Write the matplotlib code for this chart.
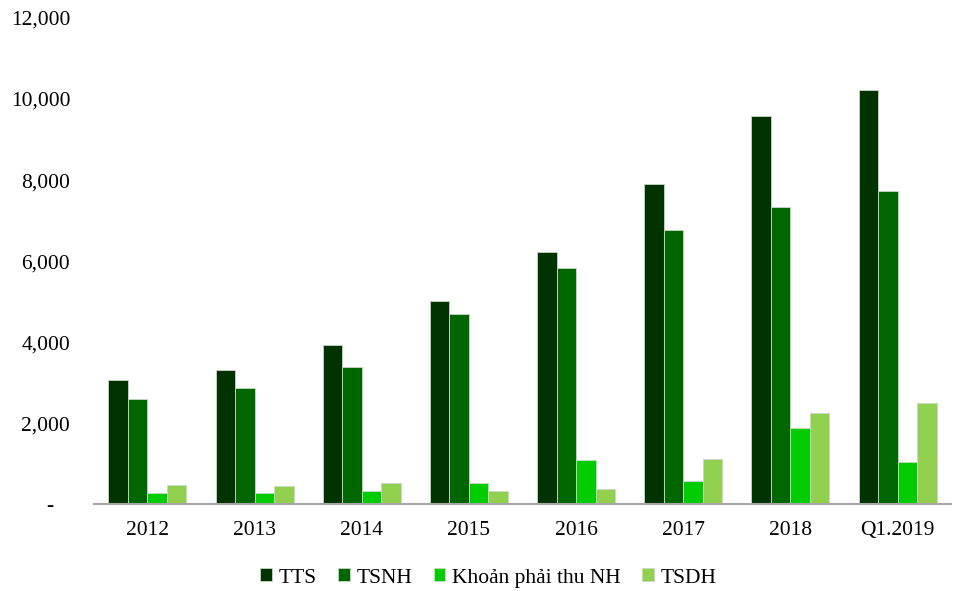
import matplotlib
matplotlib.use("Agg")
import matplotlib.pyplot as plt
import numpy as np

categories = ["2012", "2013", "2014", "2015", "2016", "2017", "2018", "Q1.2019"]
series_names = ["TTS", "TSNH", "Khoản phải thu NH", "TSDH"]
tts = [3062, 3317, 3926, 5020, 6214, 7909, 9580, 10222]
tsnh = [2600, 2856, 3383, 4691, 5827, 6773, 7325, 7728]
khoan = [263, 272, 321, 510, 1095, 568, 1868, 1029]
tsdh = [461, 453, 519, 313, 378, 1119, 2255, 2494]
colors = ["#003300", "#006600", "#00CC00", "#92D050"]

plt.rcParams['font.family'] = ['Liberation Serif', 'DejaVu Serif']

fig = plt.figure(figsize=(9.57, 5.91), dpi=100)
ax = fig.add_axes([0.098, 0.147, 0.896, 0.8225])

x = np.arange(len(categories))
w = 0.182
for i, (vals, name) in enumerate(zip([tts, tsnh, khoan, tsdh], series_names)):
    ax.bar(x + (i - 1.5) * w, vals, width=w, color=colors[i], label=name,
           edgecolor="#c8d8c8", linewidth=0.6)

ax.set_xlim(-0.5, len(categories) - 0.5)
ax.set_ylim(0, 12000)
yt = np.arange(0, 12001, 2000)
ax.set_yticks(yt)
ax.set_yticklabels(["-   "] + [f"{v:,}" for v in yt[1:]], fontsize=15.5)
ax.set_xticks(x)
ax.set_xticklabels(categories, fontsize=15.5)
ax.tick_params(axis='y', length=0, pad=17)
ax.tick_params(axis='x', length=0, pad=12)
for s in ["top", "right", "left"]:
    ax.spines[s].set_visible(False)
ax.spines["bottom"].set_color("#a6a6a6")
ax.spines["bottom"].set_linewidth(1.5)

leg = fig.legend(loc="center", bbox_to_anchor=(0.51, 0.022), ncol=4, frameon=False,
                 fontsize=15.5, handlelength=0.55, handleheight=0.55, handletextpad=0.3,
                 columnspacing=1.0)

fig.savefig("out.png", dpi=100)
